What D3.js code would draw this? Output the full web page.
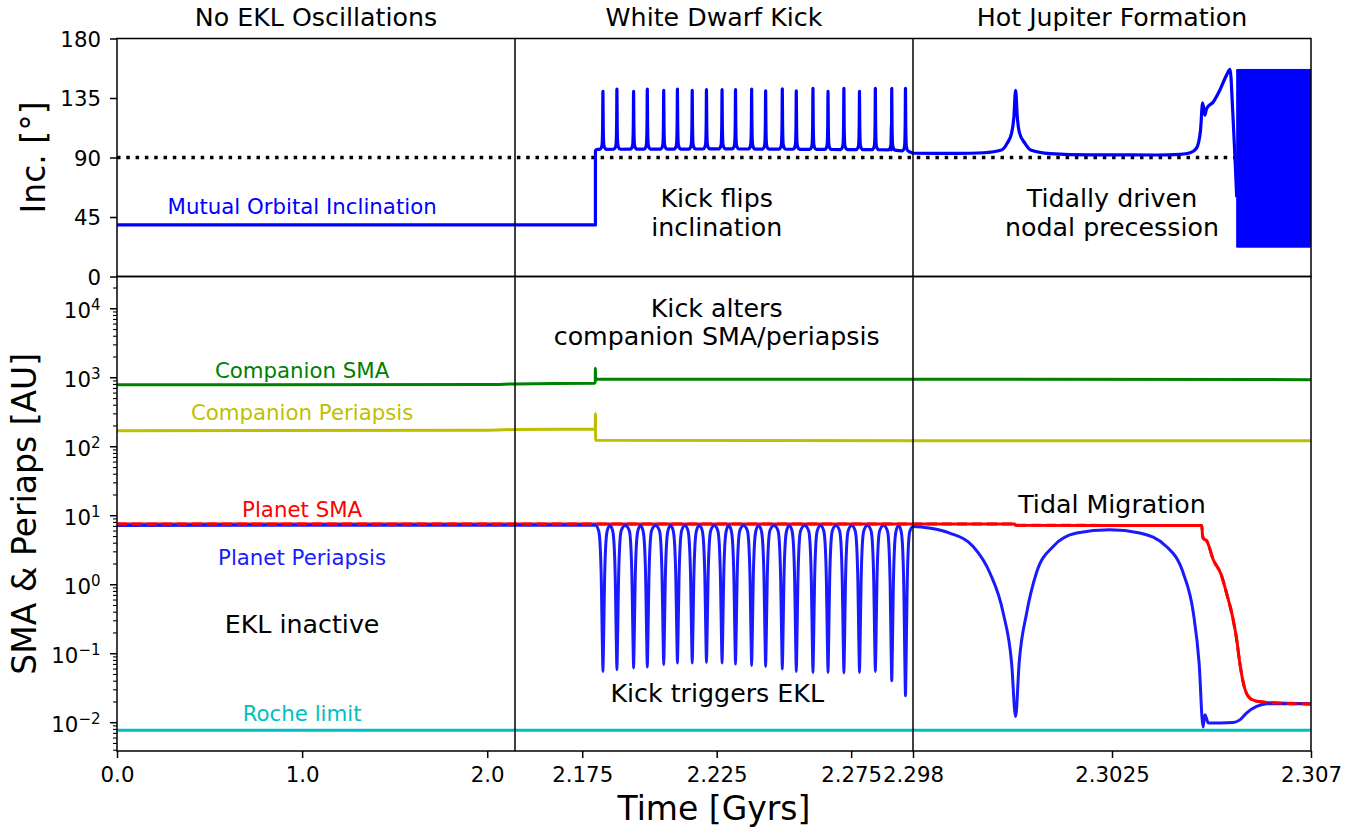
<!DOCTYPE html>
<html>
<head>
<meta charset="utf-8">
<title>EKL hot Jupiter timeline</title>
<script src="https://cdn.jsdelivr.net/npm/d3@7/dist/d3.min.js"></script>
<style>
	body { margin: 0; background: #fff; }
	svg text { font-family: "DejaVu Sans", sans-serif; }
</style>
</head>
<body>
<svg id="chart" width="1365" height="831"></svg>
<script>
// ---- DATA ----

// broken time axis: three panels of equal width [Gyr]
var segEdges = [0, 2.15, 2.298, 2.307];
var segTitles = ["No EKL Oscillations", "White Dwarf Kick", "Hot Jupiter Formation"];
var timeTicks = [0, 1, 2, 2.175, 2.225, 2.275, 2.298, 2.3025, 2.307];
var timeTickLabels = ["0.0", "1.0", "2.0", "2.175", "2.225", "2.275", "2.298", "2.3025", "2.307"];
var incTicks = [0, 45, 90, 135, 180];
var logTicks = [-2, -1, 0, 1, 2, 3, 4];
var logTickLabels = ["\u22122", "\u22121", "0", "1", "2", "3", "4"];

// EKL cycles after the kick: inclination peaks / periapsis dips
var cycleT = [2.1827, 2.1879, 2.1941, 2.1992, 2.2053, 2.2104, 2.2159, 2.2212, 2.2270, 2.2320, 2.2380,
	2.2432, 2.2494, 2.2546, 2.2608, 2.2664, 2.2723, 2.2781, 2.2840, 2.2901, 2.2952];
var incPeak = [140.0, 141.8, 140.0, 141.8, 140.8, 141.8, 140.8, 141.3, 141.3, 141.3, 141.8,
	140.5, 142.0, 140.5, 142.3, 140.0, 142.3, 140.0, 142.3, 142.3, 142.3];
var periMin = [0.0554, 0.0586, 0.0619, 0.0640, 0.0693, 0.0733, 0.0733, 0.0748, 0.0733, 0.0708, 0.0677,
	0.0655, 0.0600, 0.0554, 0.0536, 0.0536, 0.0525, 0.0536, 0.0554, 0.0406, 0.0246];

// mutual inclination [t, deg]
var incEarly = [[0, 39], [2.1799, 39]];
var incKickBase = [[2.17991, 95.2], [2.1806, 96.2], [2.23, 96.5], [2.29, 95.8], [2.2965, 94.5], [2.298, 93.2]];
// shape of one spike [dt, fraction of peak above baseline]
var incSpike = [[-0.0012, 0], [-0.0006, 0.03], [-0.0003, 0.09], [-0.0001, 0.42], [0, 1],
	[0.0001, 0.42], [0.0003, 0.09], [0.0006, 0.03], [0.0012, 0]];
var incLate = [[2.2990, 93.1], [2.2996, 93.6], [2.3000, 95.7], [2.30013, 100.8], [2.30023, 108.4],
	[2.30028, 120], [2.30032, 140.8], [2.30036, 120], [2.30041, 108.4], [2.30053, 100.8], [2.30066, 95.7],
	[2.3011, 93.0], [2.3020, 92.0], [2.3035, 91.9], [2.30404, 92.4], [2.30427, 93.6], [2.30441, 97],
	[2.30450, 110], [2.30455, 131.4], [2.30460, 122], [2.30464, 127.1], [2.30479, 132], [2.30494, 141],
	[2.30509, 152.3], [2.30517, 156.6], [2.30523, 125], [2.30528, 90.6], [2.30532, 60]];
// fast nodal precession, drawn as its envelope [t, min, max]
var incBand = [[2.30532, 22.2, 156.6], [2.30699, 22.2, 156.6]];

// planet periapsis [t, AU]
var periEarly = [[0, 7.25], [2.1799, 7.3]];
var periTop = 7.2;
// shape of one dip [|dt|, fraction of log depth]
var periDip = [[0.0016, 0.035], [0.001, 0.15], [0.0006, 0.38], [0.0003, 0.72], [0.0001, 0.93]];
var periLate = [[2.298, 7.0], [2.2984, 6.6], [2.29883, 5.61], [2.29936, 3.59], [2.29974, 1.48], [2.30004, 0.389],
	[2.30023, 0.0733], [2.30032, 0.0123], [2.30040, 0.0733], [2.30057, 0.389], [2.30079, 1.48],
	[2.30117, 3.59], [2.30170, 5.61], [2.30245, 6.27], [2.30313, 5.61], [2.30373, 3.59], [2.30411, 1.48],
	[2.30434, 0.389], [2.30447, 0.0733], [2.30456, 0.00866], [2.30460, 0.0131], [2.30468, 0.00989],
	[2.30524, 0.0101], [2.30539, 0.0110], [2.30554, 0.0138], [2.30577, 0.0172], [2.30600, 0.0189], [2.30699, 0.0189]];

// planet SMA [t, AU]
var smaPlanet = [[0, 7.6], [2.3003, 7.6], [2.30031, 7.3], [2.30453, 7.2], [2.30455, 5.01], [2.30458, 4.59],
	[2.30464, 4.34], [2.30479, 2.30], [2.30497, 1.40], [2.30509, 0.757], [2.30524, 0.311], [2.30532, 0.160],
	[2.30539, 0.0733], [2.30547, 0.0376], [2.30558, 0.0241], [2.30573, 0.0208], [2.30600, 0.0197], [2.30699, 0.0187]];
// companion orbit [t, AU]
var smaCompanion = [[0, 790], [2.0, 800], [2.15, 815], [2.1796, 835], [2.17985, 880], [2.1799, 1380],
	[2.17995, 1000], [2.1801, 960], [2.307, 940]];
var periCompanion = [[0, 171], [2.0, 174], [2.15, 178], [2.1796, 181], [2.17985, 190], [2.1799, 300],
	[2.17995, 200], [2.18, 124], [2.307, 122]];
var rocheLimit = [[0, 0.0078], [2.307, 0.0078]];

// ---- CHART ----
var svg = d3.select("#chart");

var L = 117, R = 1311, T = 38.5, M = 276.5, B = 751;
var tickFont = 21.3;

var x = d3.scaleLinear()
	.domain(segEdges)
	.range([L, L + (R - L) / 3, L + 2 * (R - L) / 3, R]);
var yInc = d3.scaleLinear().domain([0, 180]).range([M, T]);
var yAU = d3.scaleLog().domain([Math.pow(10, -2.41), Math.pow(10, 4.468)]).range([B, M]);

// build the inclination curve
var kickBase = d3.scaleLinear()
	.domain(incKickBase.map(function(d) { return d[0]; }))
	.range(incKickBase.map(function(d) { return d[1]; }));
var incMid = incKickBase.slice();
cycleT.forEach(function(t, i) {
	incSpike.forEach(function(s) {
		var b = kickBase(t + s[0]);
		incMid.push([t + s[0], b + s[1] * (incPeak[i] - b)]);
	});
});
incMid.sort(function(a, b) { return a[0] - b[0]; });
var incAll = incEarly.concat(incMid, incLate);

// build the planet periapsis curve
var periAll = periEarly.slice();
cycleT.forEach(function(t, i) {
	var lt = Math.log10(periTop), lm = Math.log10(periMin[i]);
	if (i > 0) periAll.push([(cycleT[i - 1] + t) / 2, periTop]);
	periDip.forEach(function(s) { periAll.push([t - s[0], Math.pow(10, lt - s[1] * (lt - lm))]); });
	periAll.push([t, periMin[i]]);
	periDip.slice().reverse().forEach(function(s) { periAll.push([t + s[0], Math.pow(10, lt - s[1] * (lt - lm))]); });
});
periAll = periAll.concat(periLate);

var lineInc = d3.line()
	.x(function(d) { return x(d[0]); })
	.y(function(d) { return yInc(d[1]); })
	.curve(d3.curveMonotoneX);
var lineAU = d3.line()
	.x(function(d) { return x(d[0]); })
	.y(function(d) { return yAU(d[1]); })
	.curve(d3.curveMonotoneX);

// top panel
svg.append("line")
	.attr("x1", L).attr("x2", R)
	.attr("y1", yInc(90)).attr("y2", yInc(90))
	.attr("stroke", "#000").attr("stroke-width", 3.5)
	.attr("stroke-dasharray", "3.5,5.8");

svg.append("path").datum(incAll)
	.attr("d", lineInc)
	.attr("fill", "none").attr("stroke", "#0000ff").attr("stroke-width", 3.2)
	.attr("stroke-linejoin", "round");

svg.append("path").datum(incBand)
	.attr("d", d3.area()
		.x(function(d) { return x(d[0]); })
		.y0(function(d) { return yInc(d[1]); })
		.y1(function(d) { return yInc(d[2]); }))
	.attr("fill", "#0000ff").attr("stroke", "#0000ff").attr("stroke-width", 1);

// bottom panel
var auSeries = [
	{data: rocheLimit, color: "#00bfbf"},
	{data: periCompanion, color: "#bfbf00"},
	{data: smaCompanion, color: "#008000"},
	{data: smaPlanet, color: "#ff0000"},
	{data: periAll, color: "#1a1aff"},
	{data: smaPlanet, color: "#ff0000", dash: "10,5"}
];
auSeries.forEach(function(s) {
	svg.append("path").datum(s.data)
		.attr("d", lineAU)
		.attr("fill", "none").attr("stroke", s.color).attr("stroke-width", 3)
		.attr("stroke-linejoin", "round")
		.attr("stroke-dasharray", s.dash || null);
});

// frames and panel separators
[[T, M], [M, B]].forEach(function(p) {
	svg.append("rect")
		.attr("x", L).attr("y", p[0])
		.attr("width", R - L).attr("height", p[1] - p[0])
		.attr("fill", "none").attr("stroke", "#000").attr("stroke-width", 1.5);
});
[segEdges[1], segEdges[2]].forEach(function(t) {
	svg.append("line")
		.attr("x1", x(t)).attr("x2", x(t)).attr("y1", T).attr("y2", B)
		.attr("stroke", "#000").attr("stroke-width", 1.5);
});

// x axis
var xAxis = svg.append("g")
	.attr("transform", "translate(0," + B + ")")
	.call(d3.axisBottom(x)
		.tickValues(timeTicks)
		.tickFormat(function(d, i) { return timeTickLabels[i]; })
		.tickSize(7).tickPadding(9).tickSizeOuter(0));
xAxis.select(".domain").remove();
xAxis.selectAll("line").attr("stroke-width", 1.5);
xAxis.selectAll("text").attr("font-size", tickFont).attr("fill", "#000")
	.style("font-family", "DejaVu Sans");

// inclination axis
var incAxis = svg.append("g")
	.attr("transform", "translate(" + L + ",0)")
	.call(d3.axisLeft(yInc).tickValues(incTicks).tickSize(7).tickPadding(9));
incAxis.select(".domain").remove();
incAxis.selectAll("line").attr("stroke-width", 1.5);
incAxis.selectAll("text").attr("font-size", tickFont).attr("dy", "0.36em").attr("fill", "#000")
	.style("font-family", "DejaVu Sans");

// log axis with minor ticks
var lo = yAU.domain()[0], hi = yAU.domain()[1];
for (var e = -3; e <= 4; e++) {
	for (var k = 2; k <= 9; k++) {
		var v = k * Math.pow(10, e);
		if (v < lo || v > hi) continue;
		svg.append("line")
			.attr("x1", L - 4).attr("x2", L)
			.attr("y1", yAU(v)).attr("y2", yAU(v))
			.attr("stroke", "#000").attr("stroke-width", 1.1);
	}
}
logTicks.forEach(function(e, i) {
	var yy = yAU(Math.pow(10, e));
	svg.append("line")
		.attr("x1", L - 7).attr("x2", L)
		.attr("y1", yy).attr("y2", yy)
		.attr("stroke", "#000").attr("stroke-width", 1.5);
	var t = svg.append("text")
		.attr("x", L - 16.5).attr("y", yy + 9.3)
		.attr("text-anchor", "end").attr("font-size", tickFont)
		.text("10");
	t.append("tspan").attr("dy", -8.5).attr("font-size", 15).text(logTickLabels[i]);
});

// axis titles
svg.append("text")
	.attr("transform", "translate(45," + ((T + M) / 2) + ") rotate(-90)")
	.attr("text-anchor", "middle").attr("font-size", 33)
	.text("Inc. [\u00b0]");
svg.append("text")
	.attr("transform", "translate(35.5," + ((M + B) / 2) + ") rotate(-90)")
	.attr("text-anchor", "middle").attr("font-size", 33)
	.text("SMA & Periaps [AU]");
svg.append("text")
	.attr("x", (L + R) / 2).attr("y", 820)
	.attr("text-anchor", "middle").attr("font-size", 33)
	.text("Time [Gyrs]");

// panel titles
segTitles.forEach(function(s, i) {
	svg.append("text")
		.attr("x", (x(segEdges[i]) + x(segEdges[i + 1])) / 2).attr("y", 26)
		.attr("text-anchor", "middle").attr("font-size", 25.3)
		.text(s);
});

// annotations: text, time, baseline y, colour, size
var notes = [
	["Mutual Orbital Inclination", 1.0, 214, "#0000ff", 21.3],
	["Kick flips", 2.225, 206.7, "#000", 25.3],
	["inclination", 2.225, 235.7, "#000", 25.3],
	["Tidally driven", 2.3025, 207, "#000", 25.3],
	["nodal precession", 2.3025, 235.7, "#000", 25.3],
	["Kick alters", 2.225, 316.7, "#000", 25.3],
	["companion SMA/periapsis", 2.225, 345, "#000", 25.3],
	["Companion SMA", 1.0, 378.3, "#008000", 21.3],
	["Companion Periapsis", 1.0, 420, "#bfbf00", 21.3],
	["Planet SMA", 1.0, 516.7, "#ff0000", 21.3],
	["Planet Periapsis", 1.0, 565, "#1a1aff", 21.3],
	["EKL inactive", 1.0, 633.3, "#000", 25.3],
	["Roche limit", 1.0, 720.7, "#00bfbf", 21.3],
	["Kick triggers EKL", 2.2252, 701.7, "#000", 25.3],
	["Tidal Migration", 2.3025, 513.3, "#000", 25.3]
];
notes.forEach(function(n) {
	svg.append("text")
		.attr("x", x(n[1])).attr("y", n[2])
		.attr("text-anchor", "middle")
		.attr("fill", n[3]).attr("font-size", n[4])
		.text(n[0]);
});
</script>
</body>
</html>
